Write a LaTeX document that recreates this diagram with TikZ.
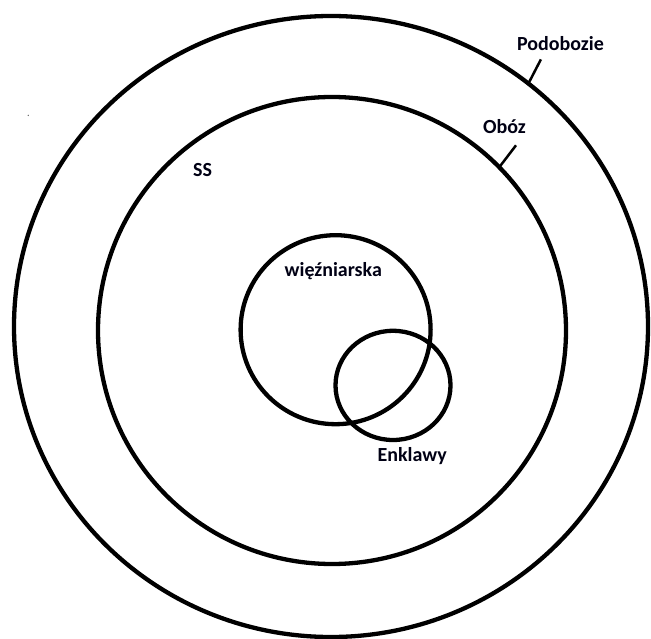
\documentclass[tikz,border=0pt]{standalone}
\usepackage{fontspec}
\setmainfont{Carlito}
\begin{document}
\begin{tikzpicture}[x=1pt,y=-1pt,
  ring/.style={draw=black, line width=4.3pt},
  lbl/.style={font=\fontsize{20}{24}\selectfont\bfseries, text=black!92!blue, inner sep=0pt},
  tick/.style={draw=black, line width=2.5pt}]
\useasboundingbox[fill=white] (0,0) rectangle (651,639);
% circles
\draw[ring] (331,326.5) ellipse [x radius=317, y radius=310.5];
\draw[ring] (332,330.5) ellipse [x radius=234, y radius=233.5];
\draw[ring] (335.6,329.7) ellipse [x radius=95, y radius=94.5];
\draw[ring] (393,385.4) ellipse [x radius=57.5, y radius=54.6];
% labels
\node[lbl] (pod) at (560.4,43.6) {Podobozie};
\node[lbl] (oboz) at (504.4,126.6) {Obóz};
\node[lbl] (ss) at (202.6,170.2) {SS};
\node[lbl] (wiez) at (333.3,271) {więźniarska};
\node[lbl] (enk) at (412.2,455.8) {Enklawy};
% ticks
\coordinate (podA) at (540.9,59.4);
\coordinate (podB) at (529.3,81.8);
\coordinate (obA) at (516,145.3);
\coordinate (obB) at (500.2,166);
\draw[tick] (podA) -- (podB);
\draw[tick] (obA) -- (obB);
% stray speck
\fill[black!60] (28.2,115.4) circle (0.7);
\end{tikzpicture}
\end{document}
